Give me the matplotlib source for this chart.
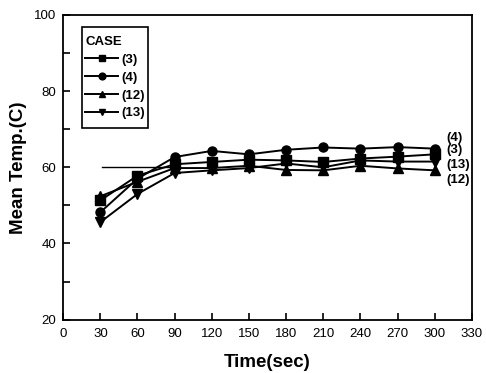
import matplotlib
matplotlib.use("Agg")
import matplotlib.pyplot as plt
from matplotlib.patches import Rectangle
import numpy as np

plt.rcParams['font.family'] = ['Liberation Sans', 'DejaVu Sans']

# datos
tiempo = [30, 60, 90, 120, 150, 180, 210, 240, 270, 300]
caso3 = [51.3, 57.8, 60.8, 61.4, 62.0, 61.8, 61.4, 62.3, 62.8, 63.4]
caso4 = [48.2, 57.0, 62.7, 64.3, 63.4, 64.6, 65.2, 64.9, 65.3, 64.9]
caso12 = [52.4, 56.2, 59.8, 59.8, 60.4, 59.3, 59.2, 60.4, 59.7, 59.2]
caso13 = [45.6, 53.0, 58.5, 59.2, 59.8, 61.0, 60.0, 61.8, 61.5, 61.5]
nombres = ['(3)', '(4)', '(12)', '(13)']
marcadores = ['s', 'o', '^', 'v']
linea_ref = 60        # linea horizontal corta cerca de 60
linea_ref_x = [31, 90]

fig = plt.figure(figsize=(4.86, 3.73), dpi=100)
ax = fig.add_axes([0.130, 0.143, 0.841, 0.817])

ax.plot(linea_ref_x, [linea_ref, linea_ref], color='black', lw=1.0)

series = [caso3, caso4, caso12, caso13]
for serie, nombre, m in zip(series, nombres, marcadores):
    ax.plot(tiempo, serie, color='black', lw=1.4, marker=m, markersize=6.5, label=nombre)

# etiquetas a la derecha de cada curva
etiquetas_der = {'(4)': 67.6, '(3)': 64.5, '(13)': 60.7, '(12)': 56.6}
for txt, yv in etiquetas_der.items():
    ax.text(309, yv, txt, fontsize=9.5, fontweight='bold', va='center', ha='left')

ax.set_xlim(0, 330)
ax.set_ylim(20, 100)
ax.set_xticks(np.arange(0, 331, 30))
ax.set_yticks(np.arange(20, 101, 20))
ax.set_yticks(np.arange(30, 100, 20), minor=True)
ax.tick_params(direction='in', length=5, width=1.2, labelsize=9.5, top=False, right=False)
ax.tick_params(axis='x', pad=6)
ax.tick_params(axis='y', pad=5)
ax.tick_params(which='minor', direction='in', length=5, width=1.2)
for s in ax.spines.values():
    s.set_linewidth(1.3)

ax.set_xlabel('Time(sec)', fontsize=13.5, fontweight='bold', labelpad=10)
ax.set_ylabel('Mean Temp.(C)', fontsize=13.5, fontweight='bold', labelpad=5)

# caja de la leyenda dibujada aparte
ax.add_patch(Rectangle((0.0465, 0.629), 0.1615, 0.3316, transform=ax.transAxes,
                       fill=False, edgecolor='black', lw=1.2, zorder=5))
leg = ax.legend(title='CASE', loc='upper left', bbox_to_anchor=(0.054, 0.93),
                borderaxespad=0, borderpad=0, frameon=False,
                prop={'size': 9.5, 'weight': 'bold'},
                handlelength=2.5, handletextpad=0.2, labelspacing=0.42,
                markerscale=0.75)
leg.get_title().set_fontweight('bold')
leg.get_title().set_fontsize(9.5)
leg._legend_box.align = 'left'

fig.savefig('out.png', dpi=100)
